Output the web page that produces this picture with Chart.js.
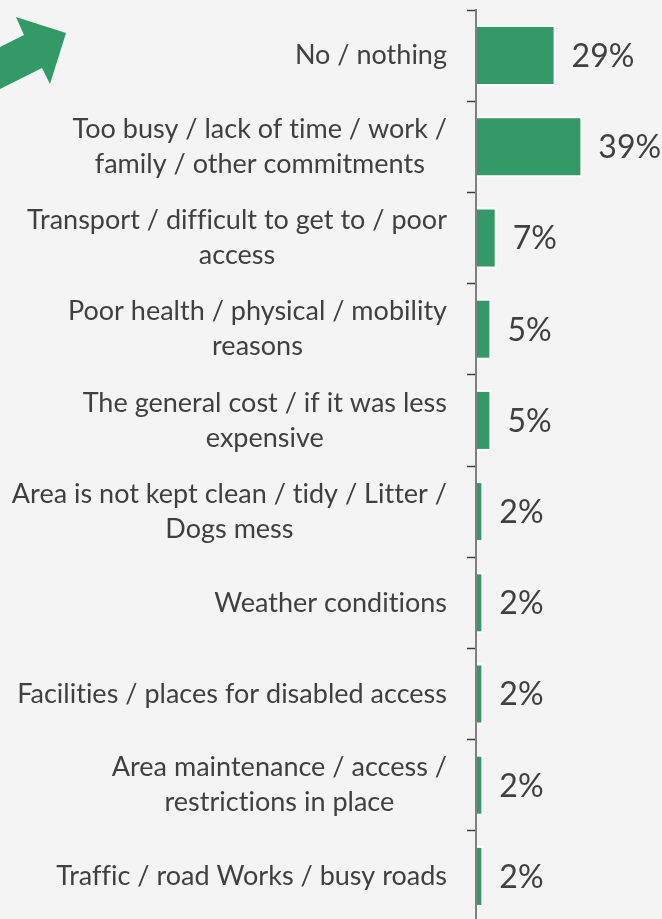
<!DOCTYPE html>
<html>
<head>
<meta charset="utf-8">
<script src="https://cdn.jsdelivr.net/npm/chart.js@4.4.1/dist/chart.umd.min.js"></script>
<style>
  html, body { margin: 0; padding: 0; background: #f4f4f4; overflow: hidden; }
  #wrap { width: 662px; height: 922px; position: relative; }
</style>
</head>
<body>
<div id="wrap"><canvas id="barriers-chart"></canvas></div>
<script>
// Reasons stopping people from visiting (share of respondents)
const reasons = [
  ["No / nothing"],
  ["Too busy / lack of time / work /", "family / other commitments"],
  ["Transport / difficult to get to / poor", "access"],
  ["Poor health / physical / mobility", "reasons"],
  ["The general cost / if it was less", "expensive"],
  ["Area is not kept clean / tidy / Litter /", "Dogs mess"],
  ["Weather conditions"],
  ["Facilities / places for disabled access"],
  ["Area maintenance / access /", "restrictions in place"],
  ["Traffic / road Works / busy roads"]
];
const shares = [29, 39, 7, 5, 5, 2, 2, 2, 2, 2];

const green = "#339966";
const textGrey = "#404040";
const fontFamily = "Lato, 'Open Sans', sans-serif";

// White halo around each bar, drawn underneath so the fill keeps its full length
const barHalo = {
  id: "barHalo",
  beforeDatasetsDraw(chart) {
    const ctx = chart.ctx;
    ctx.save();
    ctx.fillStyle = "#ffffff";
    chart.getDatasetMeta(0).data.forEach((bar) => {
      const p = bar.getProps(["x", "y", "base", "height"], true);
      ctx.fillRect(p.base + 1, p.y - p.height / 2 - 2, p.x - p.base + 1, p.height + 4);
    });
    ctx.restore();
  }
};

// Category labels: block right-aligned against the axis, lines centred within block
const categoryLabels = {
  id: "categoryLabels",
  afterDraw(chart) {
    const ctx = chart.ctx;
    const y = chart.scales.y;
    const right = y.right - 29;
    const lineH = 35;
    ctx.save();
    ctx.font = "27px " + fontFamily;
    ctx.letterSpacing = "0.01px"; // keeps "ti" from joining into a ligature
    ctx.fillStyle = textGrey;
    ctx.textAlign = "center";
    ctx.textBaseline = "middle";
    reasons.forEach((lines, i) => {
      const maxW = Math.max(...lines.map((l) => ctx.measureText(l).width));
      const cx = right - maxW / 2;
      const cy = y.getPixelForTick(i);
      lines.forEach((l, j) => {
        ctx.fillText(l, cx, cy + (j - (lines.length - 1) / 2) * lineH);
      });
    });
    ctx.restore();
  }
};

// Percentage labels after each bar
const valueLabels = {
  id: "valueLabels",
  afterDatasetsDraw(chart) {
    const ctx = chart.ctx;
    const meta = chart.getDatasetMeta(0);
    ctx.save();
    ctx.font = "32px " + fontFamily;
    ctx.fillStyle = textGrey;
    ctx.textAlign = "left";
    ctx.textBaseline = "middle";
    meta.data.forEach((bar, i) => {
      ctx.fillText(shares[i] + "%", bar.x + 18, bar.y + 1);
    });
    ctx.restore();
  }
};

// Green arrow in the top-left corner
const cornerArrow = {
  id: "cornerArrow",
  beforeDraw(chart) {
    const ctx = chart.ctx;
    ctx.save();
    ctx.fillStyle = green;
    ctx.beginPath();
    ctx.moveTo(66, 33);
    ctx.lineTo(50, 84);
    ctx.lineTo(42, 68);
    ctx.lineTo(0, 89);
    ctx.lineTo(0, 47);
    ctx.lineTo(24, 35);
    ctx.lineTo(16, 17);
    ctx.closePath();
    ctx.fill();
    ctx.restore();
  }
};

new Chart(document.getElementById("barriers-chart"), {
  type: "bar",
  data: {
    labels: reasons,
    datasets: [{
      data: shares,
      backgroundColor: green,
      borderWidth: 0,
      barPercentage: 0.625,
      categoryPercentage: 1
    }]
  },
  options: {
    indexAxis: "y",
    responsive: true,
    maintainAspectRatio: false,
    animation: false,
    layout: { padding: { top: 10, right: 0, bottom: 0, left: 0 } },
    plugins: {
      legend: { display: false },
      tooltip: { enabled: false }
    },
    scales: {
      x: {
        display: false,
        min: 0,
        max: 69.5
      },
      y: {
        afterFit(scale) { scale.width = 476; },
        border: { display: true, color: "#7f7f7f", width: 2, z: 1 },
        grid: {
          drawOnChartArea: false,
          drawTicks: true,
          offset: true,
          tickLength: 9,
          tickColor: "#404040",
          tickWidth: 1.5
        },
        ticks: { display: false }
      }
    }
  },
  plugins: [cornerArrow, barHalo, categoryLabels, valueLabels]
});
</script>
</body>
</html>
